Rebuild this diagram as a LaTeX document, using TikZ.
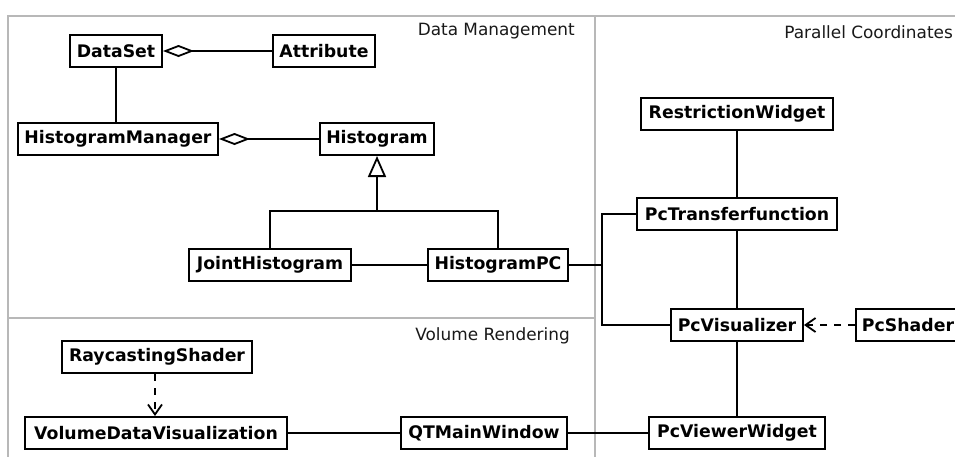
\documentclass[tikz,border=0pt]{standalone}
\usepackage{fontspec}
\setmainfont{DejaVu Sans}
\usetikzlibrary{arrows.meta}

\tikzset{
  cls/.style={draw=black, line width=2pt, fill=white, inner sep=0pt,
    minimum height=32pt, font=\fontsize{17.3}{19}\selectfont\bfseries},
  frameline/.style={draw=black!28, line width=2pt},
  pkglabel/.style={inner sep=0pt, font=\fontsize{16.9}{19}\selectfont, text=black!90},
  assoc/.style={draw=black, line width=2pt},
  aggr/.style={assoc, {Diamond[open, length=31pt, width=12pt, line width=1.8pt]}-},
  inherit/.style={assoc, -{Triangle[open, length=21pt, width=18pt, line width=1.8pt]}},
  depend/.style={assoc, dash pattern=on 7pt off 7pt, -{Straight Barb[length=10pt, width=14pt, line width=1.8pt]}}
}

\begin{document}
\begin{tikzpicture}[x=1pt, y=-1pt]
\useasboundingbox (0,0) rectangle (955,456);
\fill[white] (0,0) rectangle (955,456);

% package frames
\draw[frameline] (8,458) -- (8,16) -- (958,16);
\draw[frameline] (595,16) -- (595,458);
\draw[frameline] (8,318) -- (595,318);

\node[pkglabel, anchor=base east] (lblDM) at (575,35) {Data Management};
\node[pkglabel, anchor=base east] (lblPC) at (953,38) {Parallel Coordinates};
\node[pkglabel, anchor=base east] (lblVR) at (570,340) {Volume Rendering};

% Data Management
\node[cls, minimum width=92pt]  (ds)   at (116,51)  {DataSet};
\node[cls, minimum width=102pt] (attr) at (324,51)  {Attribute};
\node[cls, minimum width=200pt] (hm)   at (118,139) {HistogramManager};
\node[cls, minimum width=114pt] (hist) at (377,139) {Histogram};
\node[cls, minimum width=162pt] (jh)   at (270,265) {JointHistogram};
\node[cls, minimum width=140pt] (hpc)  at (498,265) {HistogramPC};

% Parallel Coordinates
\node[cls, minimum width=192pt] (rw)  at (737,114) {RestrictionWidget};
\node[cls, minimum width=200pt] (ptf) at (737,214) {PcTransferfunction};
\node[cls, minimum width=132pt] (pcv) at (737,325) {PcVisualizer};
\node[cls, minimum width=104pt] (pcs) at (908,325) {PcShader};
\node[cls, minimum width=176pt] (pvw) at (737,433) {PcViewerWidget};

% Volume Rendering
\node[cls, minimum width=190pt] (rs)  at (157,357) {RaycastingShader};
\node[cls, minimum width=262pt] (vdv) at (156,433) {VolumeDataVisualization};
\node[cls, minimum width=166pt] (qt)  at (484,433) {QTMainWindow};

% aggregations
\draw[aggr] (ds.east) -- (attr.west);
\draw[aggr] (hm.east) -- (hist.west);
\draw[assoc] (ds.south) -- (ds.south |- hm.north);

% generalisation
\coordinate (inh) at (377,211);
\draw[assoc] (jh.north) |- (inh) -| (hpc.north);
\draw[inherit] (inh) -- (hist.south);
\draw[assoc] (jh.east) -- (hpc.west);

% link from HistogramPC into the parallel coordinates classes
\coordinate (bus) at (602,265);
\draw[assoc] (hpc.east) -- (bus);
\draw[assoc] (ptf.west) -| (bus) |- (pcv.west);

\draw[assoc] (rw.south) -- (ptf.north);
\draw[assoc] (ptf.south) -- (pcv.north);
\draw[assoc] (pcv.south) -- (pvw.north);
\draw[depend] (pcs.west) -- (pcv.east);

% volume rendering links
\coordinate (rsx) at (155,0);
\draw[depend] (rs.south -| rsx) -- (vdv.north -| rsx);
\draw[assoc] (vdv.east) -- (qt.west);
\draw[assoc] (qt.east) -- (pvw.west);
\end{tikzpicture}
\end{document}
